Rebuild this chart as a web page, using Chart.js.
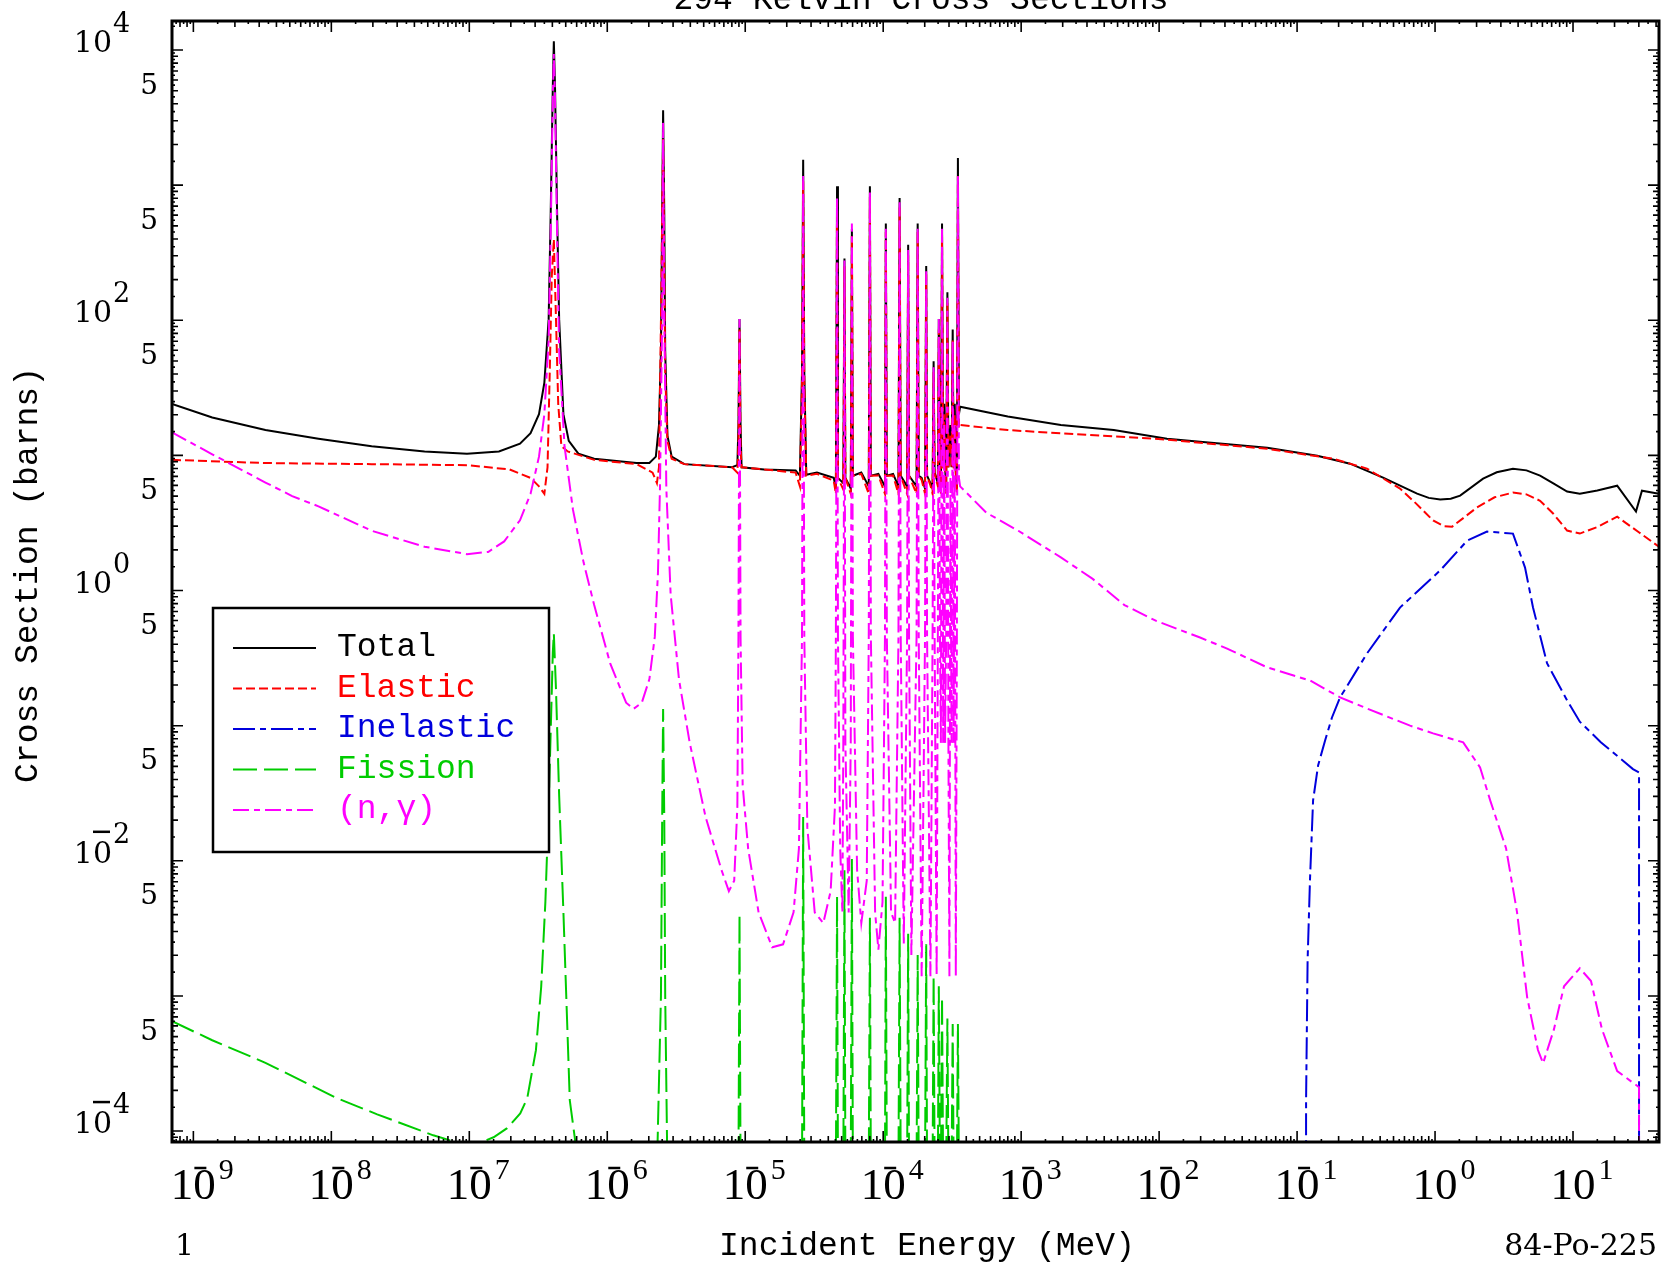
<!DOCTYPE html>
<html>
<head>
<meta charset="utf-8">
<script src="https://cdn.jsdelivr.net/npm/chart.js@4.4.1/dist/chart.umd.min.js"></script>
<style>
    html, body { margin: 0; padding: 0; background: #fff; }
    #wrap { width: 1663px; height: 1263px; }
</style>
</head>
<body>
<div id="wrap"><canvas id="xsChart"></canvas></div>
<script>
// energies in MeV, cross sections in barns
const totalE = [7.0e-10, 1.37e-9, 3.33e-9, 8.07e-9, 1.96e-8, 4.74e-8, 9.62e-8, 1.64e-7, 2.33e-7, 2.78e-7, 3.20e-7, 3.50e-7, 3.76e-7, 3.89e-7, 4.03e-7, 4.10e-7, 4.18e-7, 4.33e-7, 4.48e-7, 4.81e-7, 5.26e-7, 6.17e-7, 8.04e-7, 1.63e-6, 2.02e-6, 2.25e-6, 2.37e-6, 2.45e-6, 2.50e-6, 2.54e-6, 2.59e-6, 2.63e-6, 2.73e-6, 2.93e-6, 3.62e-6, 8.03e-6, 8.77e-6, 8.93e-6, 9.09e-6, 9.25e-6, 9.41e-6, 1.37e-5, 2.32e-5, 2.49e-5, 2.58e-5, 2.63e-5, 2.68e-5, 2.77e-5, 3.31e-5, 4.38e-5, 4.54e-5, 4.63e-5, 4.70e-5, 5.14e-5, 5.24e-5, 5.32e-5, 5.82e-5, 5.93e-5, 6.03e-5, 6.94e-5, 7.86e-5, 8.01e-5, 8.14e-5, 9.23e-5, 1.03e-4, 1.045e-4, 1.063e-4, 1.18e-4, 1.29e-4, 1.315e-4, 1.34e-4, 1.49e-4, 1.517e-4, 1.54e-4, 1.745e-4, 1.778e-4, 1.81e-4, 1.90e-4, 2.01e-4, 2.05e-4, 2.08e-4, 2.20e-4, 2.28e-4, 2.32e-4, 2.36e-4, 2.49e-4, 2.53e-4, 2.58e-4, 2.62e-4, 2.67e-4, 2.72e-4, 2.77e-4, 2.81e-4, 2.86e-4, 2.92e-4, 2.97e-4, 3.07e-4, 3.13e-4, 3.19e-4, 3.24e-4, 3.30e-4, 3.36e-4, 3.42e-4, 3.48e-4, 3.54e-4, 3.61e-4, 8.0e-4, 1.94e-3, 4.69e-3, 1.14e-2, 1.98e-2, 6.07e-2, 0.140, 0.242, 0.420, 0.741, 0.90, 1.09, 1.30, 1.52, 2.23, 2.80, 3.67, 4.60, 5.77, 7.20, 9.06, 11.2, 15.0, 20.9, 28.6, 31.6, 42];
const totalXS = [24.0, 19.1, 15.4, 13.3, 11.7, 10.7, 10.3, 10.7, 12.2, 14.6, 20.2, 34.6, 102, 623, 5440, 11600, 5440, 623, 102, 20.2, 12.8, 10.3, 9.44, 8.78, 8.78, 9.79, 16.8, 59.6, 623, 3590, 623, 59.6, 14.0, 9.79, 8.62, 8.17, 8.47, 16.8, 102, 16.8, 8.17, 7.88, 7.74, 7.07, 41.5, 1540, 41.5, 7.2, 7.46, 6.82, 5.69, 980, 6.82, 6.24, 287, 6.82, 5.69, 475, 7.07, 7.46, 5.9, 980, 7.07, 7.3, 5.9, 520, 7.07, 7.3, 5.9, 802, 7.07, 5.9, 362, 7.07, 5.9, 520, 7.07, 6.82, 5.69, 252, 7.07, 6.24, 5.69, 49.7, 7.46, 6.24, 102, 7.46, 5.69, 520, 8.17, 24.1, 8.17, 5.69, 161, 8.17, 16.8, 8.17, 85.5, 8.17, 24.1, 7.46, 5.69, 1590, 20.2, 22.9, 19.4, 16.8, 15.4, 13.3, 12.6, 11.4, 9.95, 8.69, 6.85, 5.21, 4.85, 4.71, 4.78, 5.04, 6.73, 7.50, 7.98, 7.75, 7.08, 6.20, 5.40, 5.21, 5.50, 5.97, 3.84, 5.48, 5.21];

const elasticE = [7.0e-10, 3.33e-9, 1.96e-8, 9.62e-8, 1.95e-7, 2.78e-7, 3.20e-7, 3.50e-7, 3.69e-7, 3.83e-7, 3.96e-7, 4.10e-7, 4.25e-7, 4.41e-7, 4.65e-7, 5.17e-7, 8.04e-7, 1.63e-6, 2.13e-6, 2.29e-6, 2.37e-6, 2.45e-6, 2.54e-6, 2.59e-6, 2.63e-6, 2.73e-6, 2.93e-6, 3.62e-6, 8.03e-6, 8.77e-6, 8.93e-6, 9.09e-6, 9.25e-6, 9.41e-6, 1.37e-5, 2.32e-5, 2.49e-5, 2.58e-5, 2.63e-5, 2.68e-5, 2.77e-5, 3.31e-5, 4.38e-5, 4.54e-5, 4.63e-5, 4.70e-5, 5.14e-5, 5.24e-5, 5.32e-5, 5.82e-5, 5.93e-5, 6.03e-5, 6.94e-5, 7.86e-5, 8.01e-5, 8.14e-5, 9.23e-5, 1.03e-4, 1.045e-4, 1.063e-4, 1.18e-4, 1.29e-4, 1.315e-4, 1.34e-4, 1.49e-4, 1.517e-4, 1.54e-4, 1.745e-4, 1.778e-4, 1.81e-4, 1.90e-4, 2.01e-4, 2.05e-4, 2.08e-4, 2.20e-4, 2.28e-4, 2.32e-4, 2.36e-4, 2.49e-4, 2.53e-4, 2.58e-4, 2.62e-4, 2.67e-4, 2.72e-4, 2.77e-4, 2.81e-4, 2.86e-4, 2.92e-4, 2.97e-4, 3.07e-4, 3.13e-4, 3.19e-4, 3.24e-4, 3.30e-4, 3.36e-4, 3.42e-4, 3.48e-4, 3.54e-4, 3.61e-4, 8.0e-4, 1.94e-3, 1.14e-2, 1.98e-2, 6.07e-2, 0.182, 0.321, 0.557, 0.73, 0.968, 1.15, 1.33, 2.01, 2.70, 3.67, 4.60, 5.77, 7.20, 9.06, 11.2, 15.0, 20.9, 30.0, 42];
const elasticXS = [9.27, 8.78, 8.62, 8.47, 7.88, 6.82, 5.9, 5.2, 8.17, 41.5, 211, 397, 102, 24.1, 11.7, 10.7, 9.27, 8.62, 7.46, 6.24, 8.17, 102, 2200, 252, 41.5, 12.8, 9.44, 8.62, 8.17, 7.46, 11.7, 85.5, 11.7, 8.17, 7.88, 7.46, 5.9, 34.6, 1070, 34.6, 7.07, 7.3, 6.5, 5.2, 746, 6.82, 5.6, 252, 6.82, 5.2, 419, 7.07, 7.3, 5.2, 817, 7.07, 7.1, 5.2, 450, 7.07, 7.1, 5.2, 682, 7.07, 5.2, 303, 7.07, 5.2, 450, 7.07, 6.6, 5.2, 219, 7.07, 6.0, 5.2, 41.5, 7.3, 5.9, 85.5, 7.3, 5.2, 434, 8.0, 20.2, 8.0, 5.2, 134, 8.0, 14.0, 8.0, 71.3, 8.0, 20.2, 7.3, 5.2, 1170, 16.0, 16.8, 15.4, 14.6, 13.1, 12.4, 11.2, 9.46, 7.98, 5.68, 4.40, 3.30, 3.00, 2.97, 4.11, 4.90, 5.31, 5.15, 4.62, 3.70, 2.78, 2.64, 2.95, 3.52, 2.70, 2.11];

const inelasticE = [0.116, 0.1162, 0.1192, 0.124, 0.1306, 0.142, 0.1596, 0.179, 0.205, 0.321, 0.557, 1.09, 1.71, 2.38, 3.67, 4.49, 5.13, 6.48, 9.06, 11.2, 15.9, 27.2, 30.1, 30.1];
const inelasticXS = [1e-6, 1.69e-4, 1.84e-3, 7.18e-3, 0.028, 0.0508, 0.0778, 0.115, 0.162, 0.342, 0.748, 1.41, 2.34, 2.73, 2.64, 1.48, 0.75, 0.29, 0.154, 0.107, 0.0755, 0.0477, 0.0451, 1e-6];

const fissionE = [7.0e-10, 1.37e-9, 3.33e-9, 1.10e-8, 2.15e-8, 5.48e-8, 8.6e-8, 1.0e-7, 1.16e-7, 1.5e-7, 1.88e-7, 2.34e-7, 2.63e-7, 3.04e-7, 3.32e-7, 3.56e-7, 3.76e-7, 3.89e-7, 4.03e-7, 4.10e-7, 4.25e-7, 4.48e-7, 4.81e-7, 5.35e-7, 6.06e-7, 2.29e-6, 2.45e-6, 2.50e-6, 2.54e-6, 2.59e-6, 2.63e-6, 2.73e-6, 8.93e-6, 9.09e-6, 9.25e-6, 2.58e-5, 2.63e-5, 2.68e-5, 4.54e-5, 4.63e-5, 4.70e-5, 5.14e-5, 5.24e-5, 5.32e-5, 5.82e-5, 5.93e-5, 6.03e-5, 7.86e-5, 8.01e-5, 8.14e-5, 1.03e-4, 1.045e-4, 1.063e-4, 1.29e-4, 1.315e-4, 1.34e-4, 1.49e-4, 1.517e-4, 1.54e-4, 1.745e-4, 1.778e-4, 1.81e-4, 2.01e-4, 2.05e-4, 2.08e-4, 2.28e-4, 2.32e-4, 2.36e-4, 2.49e-4, 2.53e-4, 2.58e-4, 2.62e-4, 2.67e-4, 2.72e-4, 2.86e-4, 2.92e-4, 2.97e-4, 3.13e-4, 3.19e-4, 3.24e-4, 3.42e-4, 3.48e-4, 3.54e-4];
const fissionXS = [6.5e-4, 4.7e-4, 3.2e-4, 1.75e-4, 1.33e-4, 9.3e-5, 8.1e-5, 7.8e-5, 8.1e-5, 9.0e-5, 1.05e-4, 1.35e-4, 1.75e-4, 3.97e-4, 1.17e-3, 4.97e-3, 0.0253, 0.0893, 0.348, 0.481, 0.185, 0.0304, 4.17e-3, 1.69e-4, 6.5e-5, 5e-5, 1.0e-3, 0.02, 0.133, 0.02, 1.0e-3, 5e-5, 5e-5, 4.0e-3, 5e-5, 5e-5, 0.0211, 5e-5, 5e-5, 5.43e-3, 5e-5, 5e-5, 8.5e-3, 5e-5, 5e-5, 0.0103, 5e-5, 5e-5, 3.79e-3, 5e-5, 5e-5, 5.43e-3, 5e-5, 5e-5, 3.79e-3, 5e-5, 5e-5, 2.89e-3, 5e-5, 5e-5, 2.01e-3, 5e-5, 5e-5, 2.41e-3, 5e-5, 5e-5, 1.4e-3, 5e-5, 5e-5, 1.18e-3, 5e-5, 5e-5, 9.8e-4, 5e-5, 5e-5, 6.8e-4, 5e-5, 5e-5, 6.2e-4, 5e-5, 5e-5, 6.2e-4, 5e-5];

const captureE = [7.0e-10, 1.37e-9, 3.33e-9, 5.2e-9, 8.07e-9, 1.96e-8, 4.74e-8, 9.62e-8, 1.37e-7, 1.79e-7, 2.33e-7, 2.78e-7, 3.20e-7, 3.50e-7, 3.76e-7, 3.89e-7, 4.03e-7, 4.10e-7, 4.18e-7, 4.33e-7, 4.48e-7, 4.90e-7, 5.64e-7, 6.74e-7, 8.04e-7, 1.05e-6, 1.37e-6, 1.55e-6, 1.78e-6, 2.02e-6, 2.21e-6, 2.33e-6, 2.41e-6, 2.50e-6, 2.54e-6, 2.59e-6, 2.68e-6, 2.88e-6, 3.31e-6, 3.96e-6, 5.16e-6, 6.73e-6, 7.61e-6, 8.32e-6, 8.77e-6, 8.93e-6, 9.09e-6, 9.25e-6, 9.58e-6, 1.05e-5, 1.25e-5, 1.57e-5, 1.88e-5, 2.24e-5, 2.45e-5, 2.58e-5, 2.63e-5, 2.68e-5, 2.82e-5, 3.19e-5, 3.68e-5, 4.16e-5, 4.47e-5, 4.54e-5, 4.63e-5, 4.70e-5, 4.88e-5, 5.06e-5, 5.14e-5, 5.24e-5, 5.32e-5, 5.62e-5, 5.82e-5, 5.93e-5, 6.03e-5, 6.47e-5, 6.94e-5, 7.60e-5, 7.86e-5, 8.01e-5, 8.14e-5, 8.74e-5, 9.23e-5, 9.89e-5, 1.03e-4, 1.045e-4, 1.063e-4, 1.14e-4, 1.22e-4, 1.29e-4, 1.315e-4, 1.34e-4, 1.41e-4, 1.49e-4, 1.517e-4, 1.54e-4, 1.60e-4, 1.745e-4, 1.778e-4, 1.81e-4, 1.90e-4, 2.01e-4, 2.05e-4, 2.08e-4, 2.20e-4, 2.28e-4, 2.32e-4, 2.36e-4, 2.44e-4, 2.49e-4, 2.53e-4, 2.58e-4, 2.62e-4, 2.67e-4, 2.72e-4, 2.77e-4, 2.81e-4, 2.86e-4, 2.92e-4, 2.97e-4, 3.02e-4, 3.07e-4, 3.13e-4, 3.19e-4, 3.24e-4, 3.30e-4, 3.36e-4, 3.42e-4, 3.48e-4, 3.54e-4, 3.61e-4, 5.61e-4, 9.54e-4, 1.94e-3, 3.30e-3, 5.61e-3, 9.53e-3, 1.98e-2, 3.11e-2, 6.07e-2, 0.124, 0.205, 0.321, 0.659, 0.968, 1.60, 2.12, 2.51, 3.27, 3.93, 4.65, 5.57, 6.07, 7.28, 8.61, 11.2, 13.5, 16.2, 20.9, 30.1, 30.1];
const captureXS = [14.8, 10.2, 6.3, 5.0, 4.2, 2.77, 2.11, 1.86, 1.93, 2.31, 3.31, 5.2, 9.79, 20.2, 71.3, 434, 4540, 9350, 4540, 434, 59.6, 11.7, 3.97, 1.61, 0.781, 0.289, 0.148, 0.133, 0.148, 0.221, 0.454, 1.34, 5.69, 102, 2890, 102, 5.69, 0.935, 0.22, 0.0746, 0.0211, 0.00855, 0.00596, 0.00713, 0.0253, 0.454, 102, 0.454, 0.0362, 0.0123, 0.00415, 0.00229, 0.00241, 0.00415, 0.0123, 0.454, 1170, 0.454, 0.0176, 0.00415, 0.00346, 0.00596, 0.0253, 0.454, 817, 0.454, 0.0123, 0.00415, 0.0746, 277, 0.0746, 0.00415, 0.0746, 520, 0.454, 0.00855, 0.00346, 0.00713, 0.454, 894, 0.454, 0.00415, 0.0022, 0.00497, 0.454, 475, 0.454, 0.00415, 0.00346, 0.454, 746, 0.454, 0.00241, 0.454, 331, 0.454, 0.00201, 0.454, 475, 0.454, 0.0014, 0.454, 231, 0.454, 0.0014, 0.454, 45.4, 0.454, 0.0014, 0.454, 102, 0.454, 0.0746, 475, 0.0746, 16.8, 0.0746, 0.454, 147, 0.0746, 0.0014, 6.82, 0.0746, 71.3, 0.0746, 16.8, 0.0014, 0.454, 1170, 6.82, 5.9, 3.76, 2.77, 1.76, 1.22, 0.780, 0.596, 0.449, 0.372, 0.270, 0.216, 0.162, 0.134, 0.100, 0.0877, 0.0752, 0.0491, 0.028, 0.0124, 0.00416, 9.8e-4, 3.98e-4, 3.18e-4, 5.68e-4, 1.18e-3, 1.60e-3, 1.29e-3, 5.68e-4, 2.78e-4, 2.11e-4, 1e-6];

const xDecades = [-9, -8, -7, -6, -5, -4, -3, -2, -1, 0, 1];
const yDecades = [-4, -2, 0, 2, 4];
const yFives = [5e-4, 5e-3, 5e-2, 0.5, 5, 50, 500, 5000];
const tickSteps = [1, 1.5, 2, 2.5, 3, 3.5, 4, 4.5, 5, 5.5, 6, 6.5, 7, 7.5, 8, 8.5, 9, 9.5];

const MONO = '"Liberation Mono", "DejaVu Sans Mono", monospace';
const SERIF = '"Liberation Serif", serif';
const DSERIF = '"DejaVu Serif", serif';

function pts(es, ys) {
    return es.map((e, i) => ({ x: e, y: ys[i] }));
}

const framePlugin = {
    id: 'frame',
    afterDraw(chart) {
        const ctx = chart.ctx;
        const a = chart.chartArea;
        const xs = chart.scales.x;
        const ys = chart.scales.y;
        ctx.save();
        ctx.strokeStyle = '#000';
        ctx.fillStyle = '#000';

        // ticks on all four sides, pointing inward
        ctx.lineWidth = 1.6;
        for (let d = -10; d <= 5; d++) {
            tickSteps.forEach(m => {
                const v = m * Math.pow(10, d);
                const len = m === 1 ? 11 : (Number.isInteger(m) ? 6 : 3);
                if (v >= xs.min && v <= xs.max) {
                    const px = xs.getPixelForValue(v);
                    ctx.beginPath();
                    ctx.moveTo(px, a.bottom); ctx.lineTo(px, a.bottom - len);
                    ctx.moveTo(px, a.top); ctx.lineTo(px, a.top + len);
                    ctx.stroke();
                }
                if (v >= ys.min && v <= ys.max) {
                    const py = ys.getPixelForValue(v);
                    ctx.beginPath();
                    ctx.moveTo(a.left, py); ctx.lineTo(a.left + len, py);
                    ctx.moveTo(a.right, py); ctx.lineTo(a.right - len, py);
                    ctx.stroke();
                }
            });
        }

        ctx.lineWidth = 3;
        ctx.strokeRect(a.left, a.top, a.right - a.left, a.bottom - a.top);

        // x tick labels
        xDecades.forEach(d => {
            const px = xs.getPixelForValue(Math.pow(10, d));
            ctx.font = '45px ' + SERIF;
            ctx.textAlign = 'center';
            ctx.textBaseline = 'alphabetic';
            const w = ctx.measureText('10').width;
            ctx.fillText('10', px, a.bottom + 57);
            if (d < 0) {
                ctx.lineWidth = 2.5;
                ctx.beginPath();
                ctx.moveTo(px + 1, a.bottom + 26);
                ctx.lineTo(px + 13, a.bottom + 26);
                ctx.stroke();
            }
            ctx.font = '30px ' + SERIF;
            ctx.textAlign = 'left';
            ctx.fillText(String(Math.abs(d)), px + w / 2 + 3, a.bottom + 37);
        });

        // y tick labels
        yDecades.forEach(d => {
            const py = ys.getPixelForValue(Math.pow(10, d));
            ctx.font = '30px ' + DSERIF;
            ctx.textAlign = 'right';
            ctx.textBaseline = 'alphabetic';
            ctx.fillText('10', 112, py + 2);
            if (d < 0) {
                ctx.lineWidth = 2.5;
                ctx.beginPath();
                ctx.moveTo(93, py - 29);
                ctx.lineTo(110, py - 29);
                ctx.stroke();
            }
            ctx.font = '27px ' + DSERIF;
            ctx.textAlign = 'left';
            ctx.fillText(String(Math.abs(d)), 113, py - 18);
        });
        ctx.font = '28px ' + DSERIF;
        ctx.textAlign = 'right';
        yFives.forEach(v => {
            ctx.fillText('5', 158, ys.getPixelForValue(v) + 3);
        });

        // titles
        ctx.font = '33px ' + MONO;
        ctx.textAlign = 'center';
        ctx.fillText('294 Kelvin Cross Sections', 921, 9);
        ctx.fillText('Incident Energy (MeV)', 927, 1255);
        ctx.save();
        ctx.translate(37, 575);
        ctx.rotate(-Math.PI / 2);
        ctx.fillText('Cross Section (barns)', 0, 0);
        ctx.restore();

        ctx.font = '30px ' + DSERIF;
        ctx.textAlign = 'left';
        ctx.fillText('1', 175, 1255);
        ctx.textAlign = 'right';
        ctx.fillText('84-Po-225', 1657, 1255);

        // legend
        ctx.fillStyle = '#fff';
        ctx.fillRect(213, 608, 336, 244);
        ctx.lineWidth = 2.5;
        ctx.strokeStyle = '#000';
        ctx.strokeRect(213, 608, 336, 244);
        ctx.font = '33px ' + MONO;
        ctx.textAlign = 'left';
        chart.data.datasets.forEach((ds, i) => {
            const ry = 648 + i * 40.5;
            ctx.strokeStyle = ds.borderColor;
            ctx.lineWidth = 2;
            ctx.setLineDash(ds.borderDash);
            ctx.beginPath();
            ctx.moveTo(233, ry);
            ctx.lineTo(316, ry);
            ctx.stroke();
            ctx.setLineDash([]);
            ctx.fillStyle = ds.borderColor;
            ctx.fillText(ds.label, 337, ry + 8);
        });
        ctx.restore();
    }
};

const ctx = document.getElementById('xsChart');

new Chart(ctx, {
    type: 'line',
    data: {
        datasets: [
            { label: 'Total', data: pts(totalE, totalXS), borderColor: '#000000', borderDash: [], order: 5 },
            { label: 'Elastic', data: pts(elasticE, elasticXS), borderColor: '#ff0000', borderDash: [9, 4], order: 4 },
            { label: 'Inelastic', data: pts(inelasticE, inelasticXS), borderColor: '#0000dd', borderDash: [22, 5, 6, 5], order: 3 },
            { label: 'Fission', data: pts(fissionE, fissionXS), borderColor: '#00cc00', borderDash: [24, 7], order: 2 },
            { label: '(n,\u03b3)', data: pts(captureE, captureXS), borderColor: '#ff00ff', borderDash: [16, 5, 6, 5], order: 1 }
        ]
    },
    options: {
        responsive: true,
        maintainAspectRatio: false,
        animation: false,
        layout: { padding: { left: 172, right: 4, top: 21, bottom: 121 } },
        elements: {
            line: { borderWidth: 2, tension: 0, fill: false },
            point: { radius: 0, hoverRadius: 0 }
        },
        datasets: { line: { clip: 0 } },
        plugins: {
            legend: { display: false },
            title: { display: false },
            tooltip: { enabled: false }
        },
        events: [],
        scales: {
            x: { type: 'logarithmic', min: 7.05e-10, max: 42, display: false },
            y: { type: 'logarithmic', min: 8.3e-5, max: 1.64e4, display: false }
        }
    },
    plugins: [framePlugin]
});
</script>
</body>
</html>
